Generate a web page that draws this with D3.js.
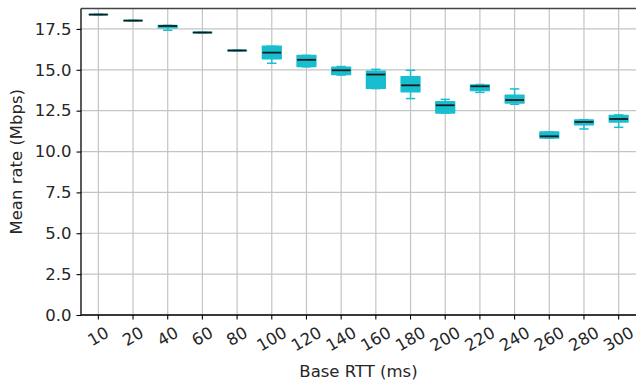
<!DOCTYPE html>
<html><head><meta charset="utf-8">
<script src="https://cdn.jsdelivr.net/npm/d3@7"></script>
<style>body{margin:0;background:#fff;} svg{display:block;} text{font-family:"DejaVu Sans",sans-serif;}</style>
</head><body><svg id="c" width="636" height="382"></svg>
<script>
const categories = ["10","20","40","60","80","100","120","140","160","180","200","220","240","260","280","300"];
const whiskerLow  = [18.36,17.99,17.42,17.26,16.16,15.40,15.18,14.68,13.85,13.24,12.36,13.62,12.89,10.83,11.38,11.48];
const q1          = [18.37,18.00,17.57,17.27,16.17,15.67,15.20,14.71,13.87,13.66,12.36,13.74,12.97,10.83,11.64,11.81];
const median      = [18.38,18.01,17.68,17.28,16.18,16.05,15.61,14.97,14.71,14.05,12.83,13.99,13.15,10.93,11.81,11.99];
const q3          = [18.39,18.02,17.71,17.29,16.19,16.44,15.87,15.15,14.91,14.58,13.05,14.07,13.44,11.19,11.93,12.21];
const whiskerHigh = [18.40,18.03,17.72,17.30,16.20,16.44,15.88,15.20,15.03,14.97,13.19,14.10,13.83,11.19,11.95,12.24];
const yTicks = [0,2.5,5,7.5,10,12.5,15,17.5];

const FS = 16.5;
const svg = d3.select("#c");
const m = {l:81, r:636, t:8.5, b:315};
const x = d3.scaleBand().domain(categories).range([m.l, m.r]).paddingInner(0).paddingOuter(0);
const y = d3.scaleLinear().domain([0, 18.75]).range([m.b, m.t]);
const bw = x.bandwidth()*0.54;
const color = "#17becf";

// grid
const g = svg.append("g");
g.selectAll(".gx").data(categories).enter().append("line")
  .attr("x1", d=>x(d)+x.bandwidth()/2).attr("x2", d=>x(d)+x.bandwidth()/2)
  .attr("y1", m.t).attr("y2", m.b).attr("stroke","#c4c4c4").attr("stroke-width",1.2);
g.selectAll(".gy").data(yTicks).enter().append("line")
  .attr("x1", m.l).attr("x2", m.r).attr("y1", d=>y(d)).attr("y2", d=>y(d))
  .attr("stroke","#c4c4c4").attr("stroke-width",1.2);

// boxes
const data = categories.map((c,i)=>({c, lo:whiskerLow[i], q1:q1[i], med:median[i], q3:q3[i], hi:whiskerHigh[i]}));
const bx = svg.append("g").selectAll("g").data(data).enter().append("g")
  .attr("transform", d=>`translate(${x(d.c)+x.bandwidth()/2},0)`);
const capW = bw/2;
bx.append("line").attr("x1",0).attr("x2",0).attr("y1",d=>y(d.lo)).attr("y2",d=>y(d.q1)).attr("stroke",color).attr("stroke-width",1.5);
bx.append("line").attr("x1",0).attr("x2",0).attr("y1",d=>y(d.hi)).attr("y2",d=>y(d.q3)).attr("stroke",color).attr("stroke-width",1.5);
bx.append("line").attr("x1",-capW/2).attr("x2",capW/2).attr("y1",d=>y(d.lo)).attr("y2",d=>y(d.lo)).attr("stroke",color).attr("stroke-width",1.5);
bx.append("line").attr("x1",-capW/2).attr("x2",capW/2).attr("y1",d=>y(d.hi)).attr("y2",d=>y(d.hi)).attr("stroke",color).attr("stroke-width",1.5);
bx.append("rect").attr("x",-bw/2).attr("width",bw)
  .attr("y",d=>y(d.q3)).attr("height",d=>Math.max(0.01,y(d.q1)-y(d.q3)))
  .attr("fill",color).attr("stroke",color).attr("stroke-width",1.5).attr("stroke-linejoin","round");
bx.append("line").attr("x1",-bw/2).attr("x2",bw/2).attr("y1",d=>y(d.med)).attr("y2",d=>y(d.med))
  .attr("stroke","#1a1a1a").attr("stroke-width",1.8);

// axes
const xa = svg.append("g").attr("transform",`translate(0,${m.b})`)
  .call(d3.axisBottom(x).tickSize(4.5).tickPadding(4));
xa.attr("font-family","DejaVu Sans").attr("font-size",FS);
xa.select(".domain").attr("stroke","#000").attr("stroke-width",1.3).attr("d",`M${m.l},0H${m.r}`);
xa.selectAll(".tick line").attr("stroke","#000").attr("stroke-width",1.1);
xa.selectAll(".tick text").attr("font-size",FS).attr("fill","#262626")
  .attr("text-anchor","middle").attr("dy",null).attr("y",0)
  .attr("dominant-baseline","central")
  .each(function(){
    const w = this.getComputedTextLength();
    const h = FS*1.15;
    const bh = w*0.5 + h*0.866;
    d3.select(this).attr("transform",`translate(0,${8 + bh/2}) rotate(-30)`);
  });

const ya = svg.append("g").attr("transform",`translate(${m.l},0)`)
  .call(d3.axisLeft(y).tickValues(yTicks).tickFormat(d3.format(".1f")).tickSize(4.5).tickPadding(5));
ya.attr("font-family","DejaVu Sans").attr("font-size",FS);
ya.select(".domain").attr("stroke","#000").attr("stroke-width",1.3).attr("d",`M0,${m.b}V${m.t}`);
ya.selectAll(".tick line").attr("stroke","#000").attr("stroke-width",1.1);
ya.selectAll(".tick text").attr("font-size",FS).attr("fill","#262626");

// top spine
svg.append("line").attr("x1",m.l).attr("x2",m.r).attr("y1",m.t).attr("y2",m.t).attr("stroke","#444").attr("stroke-width",1.3);

svg.append("text").attr("x",(m.l+m.r)/2).attr("y",377).attr("text-anchor","middle")
  .attr("font-size",FS).attr("fill","#262626").text("Base RTT (ms)");
svg.append("text").attr("transform",`translate(22,${(m.t+m.b)/2}) rotate(-90)`).attr("text-anchor","middle")
  .attr("font-size",FS).attr("fill","#262626").text("Mean rate (Mbps)");
</script></body></html>
